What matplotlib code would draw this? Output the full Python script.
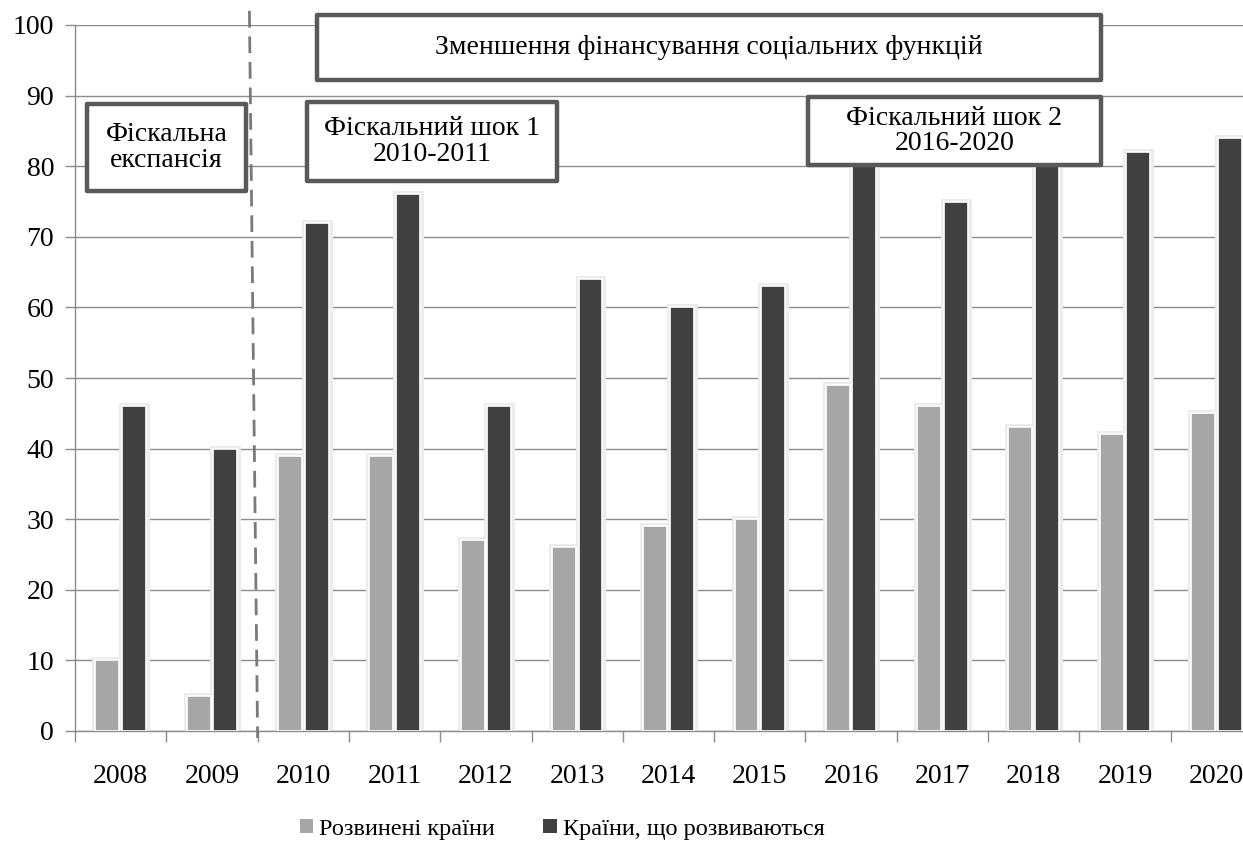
import matplotlib.pyplot as plt
from matplotlib.patches import Rectangle, Patch

plt.rcParams['font.family'] = ['Liberation Serif', 'DejaVu Serif']

years = ['2008', '2009', '2010', '2011', '2012', '2013', '2014',
         '2015', '2016', '2017', '2018', '2019', '2020']
developed = [10, 5, 39, 39, 27, 26, 29, 30, 49, 46, 43, 42, 45]
developing = [46, 40, 72, 76, 46, 64, 60, 63, 80, 75, 81, 82, 84]
series_names = ['Розвинені країни', 'Країни, що розвиваються']

W, H = 1243, 848
LIGHT = '#a6a6a6'
DARK = '#404040'
GRID = '#8c8c8c'
BOX_EDGE = '#595959'
FS = 20


def fxy(x, y):
    """pixel position -> figure fraction"""
    return x / W, 1 - y / H


fig = plt.figure(figsize=(W / 100, H / 100), dpi=100)
ax = fig.add_axes([75 / W, 1 - 731 / H, 1187 / W, 706 / H])

idx = list(range(len(years)))
bw = 0.262
off = 0.146
for vals, sign, col in [(developed, -1, LIGHT), (developing, 1, DARK)]:
    xs = [i + sign * off for i in idx]
    # soft halo around each bar
    ax.bar(xs, vals, width=bw, color='white', edgecolor='#ececec',
           linewidth=5, zorder=2)
    ax.bar(xs, vals, width=bw, color=col, edgecolor='white',
           linewidth=1.2, zorder=3)

ax.set_xlim(-0.5, len(years) - 0.5)
ax.set_ylim(0, 100)
ax.set_yticks(range(0, 101, 10))
ax.set_xticks(idx)
ax.set_xticklabels(years)
ax.set_xticks([i - 0.5 for i in idx] + [len(years) - 0.5], minor=True)
ax.tick_params(axis='x', which='major', length=0, pad=24, labelsize=FS)
ax.tick_params(axis='x', which='minor', length=8, color=GRID, width=1)
ax.tick_params(axis='y', length=7, color=GRID, width=1, pad=8, labelsize=FS)
ax.grid(axis='y', color=GRID, linewidth=1, zorder=0)
ax.set_axisbelow(True)
for s in ['top', 'right']:
    ax.spines[s].set_visible(False)
for s in ['left', 'bottom']:
    ax.spines[s].set_color(GRID)
    ax.spines[s].set_linewidth(1)

# dashed separator between 2009 and 2010
ax.plot([1.41, 1.5], [102, -1], color='#7a7a7a', linewidth=2,
        dashes=(6, 3.2), clip_on=False, zorder=4)

# annotation boxes
boxes = [
    ((87, 104, 246, 191), 'Фіскальна\nекспансія'),
    ((317, 15, 1101, 80), 'Зменшення фінансування соціальних функцій'),
    ((307, 102, 557, 181), 'Фіскальний шок 1\n2010-2011'),
    ((808, 97, 1101, 165), 'Фіскальний шок 2\n2016-2020'),
]
for (x0, y0, x1, y1), label in boxes:
    lx, by = fxy(x0, y1)
    fig.patches.append(Rectangle((lx, by), (x1 - x0) / W, (y1 - y0) / H,
                                 transform=fig.transFigure, facecolor='white',
                                 edgecolor=BOX_EDGE, linewidth=3.2,
                                 joinstyle='round', zorder=5))
    cx, cy = fxy((x0 + x1) / 2, (y0 + y1) / 2)
    fig.text(cx, cy, label, ha='center', va='center', fontsize=FS,
             linespacing=1.05, zorder=6)

handles = [Patch(facecolor=LIGHT), Patch(facecolor=DARK)]
lx, ly = fxy(562, 829)
fig.legend(handles, series_names, loc='center', bbox_to_anchor=(lx, ly),
           ncol=2, frameon=False, fontsize=17.5, handlelength=0.55,
           handleheight=0.55, handletextpad=0.25, columnspacing=2.0)

fig.savefig('out.png', dpi=100)
